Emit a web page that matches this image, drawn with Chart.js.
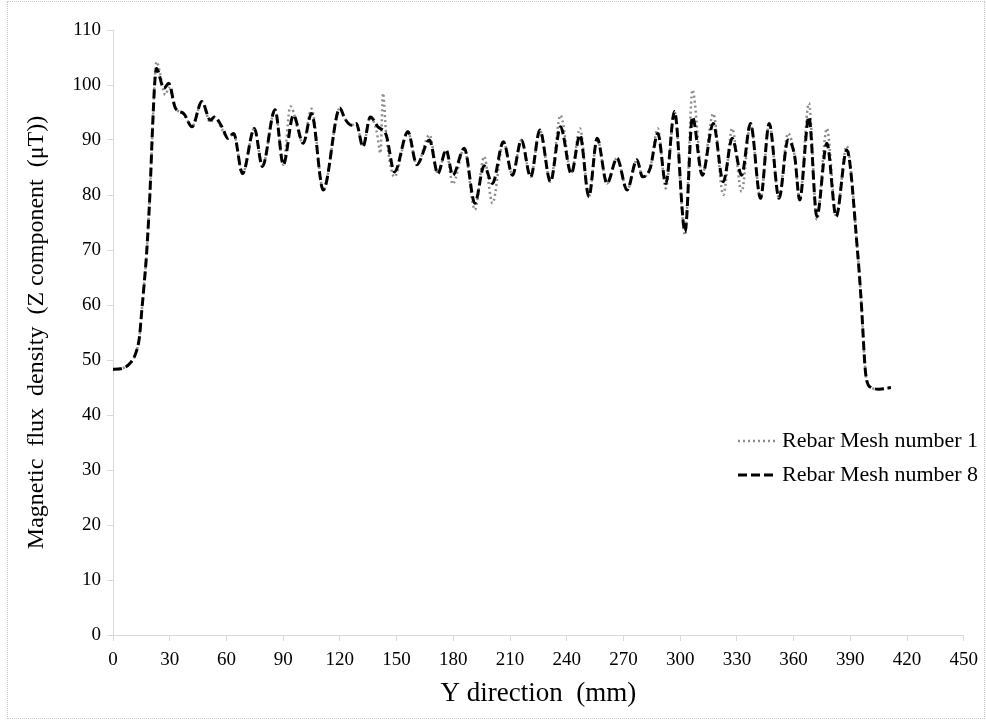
<!DOCTYPE html>
<html>
<head>
<meta charset="utf-8">
<script src="https://cdn.jsdelivr.net/npm/chart.js@4.4.1/dist/chart.umd.min.js"></script>
<style>
  html, body { margin: 0; padding: 0; background: #fff; }
  #wrap { position: relative; width: 986px; height: 720px; }
  #wrap:after { content: ""; position: absolute; left: 7px; top: 1px; right: 1px; bottom: 1px; border: 1px dotted #c8c8c8; pointer-events: none; }
</style>
</head>
<body>
<div id="wrap"><canvas id="chart" width="986" height="720"></canvas></div>
<script>
// Y direction (mm) / flux density (uT) at peaks and troughs
const mesh8X = [0, 4, 9, 12, 14, 15.1, 16.5, 17.7, 19.5, 20.9, 22.1, 23, 26.9, 29.5, 33, 37.4, 41.8, 47, 51.5, 53.7,
  57.6, 60.8, 63.8, 68.5, 74.8, 79, 85.7, 90.1, 95.4, 100.6, 105, 111.2, 120, 122.6, 126.1, 128.7, 132.2, 136.1, 140.1, 144.5,
  148.9, 156, 160.7, 167.4, 171.8, 176.2, 179.7, 185.8, 191.4, 196.3, 200.7, 206.5, 211.3, 216, 220.9, 225.8, 231.4, 236.7, 242.4, 247,
  251.7, 256.1, 261.3, 266.6, 271.9, 277.1, 280.1, 284.1, 288.2, 292.4, 297, 302.6, 306.5, 311.7, 317.5, 322.8, 327.5, 332.5, 337.2, 342.5,
  347.1, 352.3, 357, 360.6, 363.2, 368.1, 372.3, 377.6, 382.5, 388.1, 393.9, 395.7, 398.3, 401, 405.3, 411.5];
const mesh8Y = [48.3, 48.4, 49.4, 51.2, 54.2, 58.5, 63.9, 69, 80, 92, 100.5, 103, 99.4, 100.3, 95.8, 94.8, 92.4, 97, 93.6, 94.2,
  92.4, 90.3, 91.2, 83.9, 92.1, 85.2, 95.5, 85.5, 94.5, 89.4, 94.8, 80.9, 95.8, 93.9, 92.7, 93, 88.8, 94.2, 92.4, 90.9,
  84.2, 91.5, 85.5, 90, 83.9, 88.2, 83.6, 88.5, 78.5, 85.3, 82.1, 89.7, 83.6, 90, 83.3, 91.8, 82.4, 92.4, 83.9, 90.9,
  79.7, 90.3, 82.1, 86.7, 80.9, 86.4, 83.3, 84.8, 91.2, 82.1, 95.2, 73.3, 94.2, 83.6, 93, 82.4, 90.3, 83.6, 93, 79.4,
  93, 79.4, 90, 87, 79.1, 94.2, 76.1, 89.4, 76.1, 88.2, 69.4, 61, 47, 45, 44.7, 45];

const mesh1X = [0, 4, 9, 12, 14, 15.1, 16.5, 17.7, 19.5, 20.9, 22.1, 23, 27.7, 29.5, 33, 37.4, 41.8, 47, 51.5, 53.7,
  57.6, 60.8, 63.8, 68.5, 74.8, 79, 85.7, 90.1, 93.8, 100.6, 105, 111.2, 120, 122.6, 126.1, 128.7, 132.2, 136.1, 139.5, 141.5, 142.8, 144.5,
  148.9, 156, 160.7, 167.4, 171.8, 176.2, 179.7, 185.8, 191.4, 196.3, 200.7, 206.5, 211.3, 216, 220.9, 225.8, 231.4, 236.7, 242.4, 247,
  251.7, 256.1, 261.3, 266.6, 271.9, 277.1, 280.1, 284.1, 288.2, 292.4, 297, 302.6, 306.5, 311.7, 317.5, 322.8, 327.5, 332.5, 337.2, 342.5,
  347.1, 352.3, 357, 360.6, 363.2, 368.1, 372.3, 377.6, 382.5, 388.1, 393.9, 395.7, 398.3, 401, 405.3, 411.5];
const mesh1Y = [48.3, 48.4, 49.4, 51.2, 54.2, 58.5, 63.9, 69, 80, 92, 101, 104.2, 98.2, 99.5, 95.8, 94.8, 92.4, 97, 93.2, 94.2,
  92, 90.3, 91.2, 83.9, 92.1, 85.2, 95.5, 85.5, 96.1, 89.4, 95.7, 80.9, 95.8, 93.9, 92.7, 93, 88.8, 94.2, 91.5, 87.6, 98.5, 91,
  83.3, 91.5, 85.5, 90.9, 83.9, 88.2, 82, 88.5, 77.3, 87, 78.5, 89.7, 83.6, 90, 83.3, 91.8, 82.4, 94.5, 83.9, 92.1,
  79.7, 90.3, 82.1, 86.7, 80.9, 86.4, 83.3, 84.8, 92.1, 81.2, 95.2, 72.7, 99.1, 83.6, 94.8, 80, 92.1, 80.6, 93, 79.4,
  93, 79.4, 91.2, 87, 79.1, 96.7, 75.5, 92.1, 76.1, 88.9, 69.4, 61, 47, 45, 44.7, 45];

const seriesNames = ["Rebar Mesh number 1", "Rebar Mesh number 8"];
const xTitle = "Y direction  (mm)";
const yTitle = "Magnetic  flux  density  (Z component  (\u03bcT))";

const toPoints = (xs, ys) => xs.map((x, i) => ({ x: x, y: ys[i] }));

const axisGray = "#d9d9d9";
const font = "'Liberation Serif', 'Times New Roman', serif";

// legend drawn by hand, sits inside the plot on the right
const legendPlugin = {
  id: "sideLegend",
  afterDraw(chart) {
    const ctx = chart.ctx;
    const rows = [
      { y: 441, color: "#8c8c8c", dash: [2, 3], width: 2.5 },
      { y: 475, color: "#000", dash: [9, 4], width: 3 }
    ];
    ctx.save();
    rows.forEach((r, i) => {
      ctx.beginPath();
      ctx.setLineDash(r.dash);
      ctx.lineWidth = r.width;
      ctx.strokeStyle = r.color;
      ctx.moveTo(738, r.y);
      ctx.lineTo(775, r.y);
      ctx.stroke();
      ctx.setLineDash([]);
      ctx.fillStyle = "#000";
      ctx.font = "22px " + font;
      ctx.textBaseline = "middle";
      ctx.fillText(seriesNames[i], 782, r.y);
    });
    ctx.restore();
  }
};

new Chart(document.getElementById("chart"), {
  type: "line",
  data: {
    datasets: [
      {
        label: seriesNames[1],
        data: toPoints(mesh8X, mesh8Y),
        borderColor: "#000",
        borderWidth: 3,
        borderDash: [9, 4],
        pointRadius: 0,
        cubicInterpolationMode: "monotone",
        fill: false
      },
      {
        label: seriesNames[0],
        data: toPoints(mesh1X, mesh1Y),
        borderColor: "#8c8c8c",
        borderWidth: 2.5,
        borderDash: [2, 3],
        pointRadius: 0,
        cubicInterpolationMode: "monotone",
        fill: false
      }
    ]
  },
  options: {
    responsive: false,
    animation: false,
    layout: { padding: { top: 30, right: 13, left: 18, bottom: 6 } },
    plugins: { legend: { display: false }, tooltip: { enabled: false } },
    scales: {
      x: {
        type: "linear",
        min: 0,
        max: 450,
        ticks: { stepSize: 30, color: "#000", font: { family: font, size: 19 }, padding: 8, maxRotation: 0 },
        grid: { drawOnChartArea: false, tickLength: 6, color: axisGray },
        border: { color: axisGray, width: 1 },
        title: { display: true, text: xTitle, color: "#000", font: { family: font, size: 27 }, padding: { top: 4 } },
        afterFit(scale) { scale.height = 79; }
      },
      y: {
        min: 0,
        max: 110,
        ticks: { stepSize: 10, color: "#000", font: { family: font, size: 19 }, padding: 6 },
        grid: { drawOnChartArea: false, tickLength: 6, color: axisGray },
        border: { color: axisGray, width: 1 },
        title: { display: true, text: yTitle, color: "#000", font: { family: font, size: 24 }, padding: { bottom: 4 } },
        afterFit(scale) { scale.width = 95; }
      }
    }
  },
  plugins: [legendPlugin]
});
</script>
</body>
</html>
